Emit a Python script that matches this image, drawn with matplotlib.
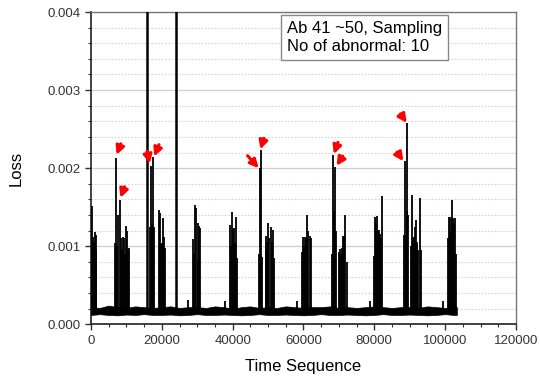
import numpy as np
import matplotlib
matplotlib.use("Agg")
import matplotlib.pyplot as plt
from matplotlib.ticker import MultipleLocator

plt.rcParams['font.family'] = ['Liberation Sans', 'DejaVu Sans']

# 基線ノイズ帯 (2500刻みで読み取った上下の包絡線)
base_x = np.arange(0, 105000, 2500)
base_upper = [2.2, 2.1, 2.4, 2.2, 2.1, 2.3, 2.2, 2.1, 2.2, 2.3, 2.1, 2.2, 2.2, 2.1,
              2.3, 2.2, 2.0, 2.2, 2.3, 2.1, 2.2, 2.1, 2.3, 2.2, 2.1, 2.2, 2.2, 2.3,
              2.1, 2.2, 2.1, 2.2, 2.3, 2.2, 2.1, 2.2, 2.2, 2.1, 2.3, 2.2, 2.1, 2.2]
base_lower = [1.2, 1.3, 1.2, 1.15, 1.25, 1.2, 1.3, 1.2, 1.2, 1.25, 1.15, 1.2, 1.3, 1.2,
              1.2, 1.25, 1.2, 1.15, 1.2, 1.3, 1.2, 1.2, 1.25, 1.2, 1.15, 1.2, 1.3, 1.2,
              1.2, 1.25, 1.2, 1.15, 1.2, 1.3, 1.2, 1.2, 1.25, 1.2, 1.15, 1.2, 1.3, 1.2]
base_end = 103300

# スパイク (x, loss)
spike_x = [100, 300, 550, 800, 1050, 1300, 1500,
           6800, 7160, 7450, 7750, 8120, 8400, 8700, 9000, 9350, 9650, 9900, 10200, 10500, 10850,
           16750, 17070, 17350, 17630, 17900,
           19150, 19450, 19750, 20050, 20300, 20550, 20850,
           27360,
           28700, 29000, 29430, 29720, 30090, 30300, 30550, 30850,
           37730,
           39150, 39450, 39810, 40100, 40380, 40650, 41040, 41250,
           47350, 47630, 47870, 48110, 48350,
           49300, 49525, 49800, 50090, 50400, 50750, 51100, 51500, 51750,
           58100,
           59650, 59900, 60200, 60450, 60800, 61050, 61300, 61750, 62050,
           68150, 68400, 68650, 68850, 69100,
           69950, 70250, 70550, 70800, 71100, 71400, 71850, 72150,
           78870,
           80000, 80200, 80500, 80700, 81000, 81300, 81600, 81800, 82250,
           88450, 88700, 88950, 89150, 89340, 89550,
           90500, 90750, 91000, 91220, 91500, 91890, 92150, 92350, 92820, 93150,
           99530,
           100800, 101000, 101300, 101550, 101800, 102050, 102300, 102550, 102750, 103100]
spike_y = [1.02, 1.51, 1.12, 1.05, 1.18, 1.15, 0.95,
           1.04, 2.13, 1.00, 1.40, 1.59, 1.10, 0.95, 1.12, 1.10, 0.90, 1.26, 1.20, 0.95, 0.98,
           1.25, 2.03, 1.30, 2.14, 1.25,
           1.47, 1.42, 1.03, 1.04, 1.36, 1.12, 0.98,
           0.31,
           1.09, 0.90, 1.53, 1.49, 1.30, 0.83, 1.26, 1.24,
           0.30,
           1.27, 1.00, 1.44, 1.22, 1.24, 1.04, 1.37, 0.85,
           0.90, 2.00, 0.88, 2.23, 0.86,
           0.95, 1.13, 1.05, 1.30, 1.10, 1.25, 1.05, 1.21, 0.85,
           0.30,
           0.92, 1.12, 1.00, 1.12, 1.10, 1.40, 1.20, 1.13, 1.10,
           0.90, 2.17, 1.45, 2.02, 1.20,
           0.92, 0.97, 0.90, 0.98, 1.13, 1.13, 1.40, 0.80,
           0.30,
           0.87, 1.37, 1.30, 1.39, 1.20, 1.21, 1.16, 1.10, 1.64,
           1.14, 2.09, 1.15, 1.45, 2.58, 1.40,
           1.00, 1.65, 1.10, 1.12, 1.25, 1.34, 1.05, 0.95, 1.62, 0.95,
           0.30,
           1.10, 1.38, 1.37, 1.20, 1.59, 1.35, 1.36, 1.30, 1.36, 0.90]

# 上限を超える2本
tall_x = [15760, 24060]
tall_y = [5.5, 5.5]

# 異常箇所の矢印 (先端位置)
arrow_x = [7250, 8300, 16600, 17830, 47350, 47830, 68580, 69340, 88200, 89150]
arrow_y = [2.17, 1.62, 2.06, 2.15, 2.00, 2.24, 2.18, 2.03, 2.09, 2.58]
arrow_off = [(3, 8), (3, 8), (-2, 9), (3.5, 8.5), (-8, 9), (2.5, 8), (3, 8.5), (4.5, 7), (-4.5, 6.5), (-4.5, 6.5)]

fig = plt.figure(figsize=(5.4, 3.78), dpi=100)
ax = fig.add_axes([0.1685, 0.142, 0.787, 0.8262])

scale = 1e-4
ax.fill_between(list(base_x) + [base_end],
                [v * scale for v in base_upper] + [base_upper[-1] * scale],
                [v * scale for v in base_lower] + [base_lower[-1] * scale],
                color="black", lw=0.5, zorder=3)
ax.vlines(spike_x, 1.3e-4, [v * 1e-3 for v in spike_y], color="black", lw=1.3, zorder=3)
ax.vlines(tall_x, 1.3e-4, [v * 1e-3 for v in tall_y], color="black", lw=1.8, zorder=3)

for x, y, off in zip(arrow_x, arrow_y, arrow_off):
    ax.annotate("", xy=(x, y * 1e-3), xytext=off, textcoords="offset points",
                arrowprops=dict(arrowstyle="-|>,head_length=0.5,head_width=0.25",
                                color="red", lw=2.2, mutation_scale=10,
                                shrinkA=0, shrinkB=0), zorder=4)

ax.set_xlim(0, 120000)
ax.set_ylim(0, 0.004)
ax.xaxis.set_major_locator(MultipleLocator(20000))
ax.xaxis.set_minor_locator(MultipleLocator(5000))
ax.yaxis.set_major_locator(MultipleLocator(0.001))
ax.yaxis.set_minor_locator(MultipleLocator(0.0002))
ax.yaxis.set_major_formatter(plt.FormatStrFormatter("%.3f"))

ax.grid(True, axis="y", which="major", color="#cfcfcf", lw=0.9, ls="-")
ax.grid(True, axis="y", which="minor", color="#d5d5d5", lw=0.8, ls=(0, (1.5, 1.5)))
ax.set_axisbelow(True)

ax.tick_params(which="major", direction="out", length=4, width=1, labelsize=9.5,
               colors="#333333", labelcolor="#333333")
ax.tick_params(which="minor", direction="out", length=2.5, width=0.8, colors="#333333")
for s in ["left", "bottom"]:
    ax.spines[s].set_color("#222222")
    ax.spines[s].set_linewidth(1.2)
for s in ["top", "right"]:
    ax.spines[s].set_color("#777777")
    ax.spines[s].set_linewidth(1.0)

ax.set_xlabel("Time Sequence", fontsize=12, labelpad=9)
ax.set_ylabel("Loss", fontsize=12, labelpad=17)

ax.text(0.462, 0.972, "Ab 41 ~50, Sampling\nNo of abnormal: 10", transform=ax.transAxes,
        fontsize=12, va="top", ha="left", linespacing=1.25, zorder=5,
        bbox=dict(boxstyle="square,pad=0.35", fc="white", ec="#888888", lw=1.0))

fig.savefig("out.png", dpi=100)
